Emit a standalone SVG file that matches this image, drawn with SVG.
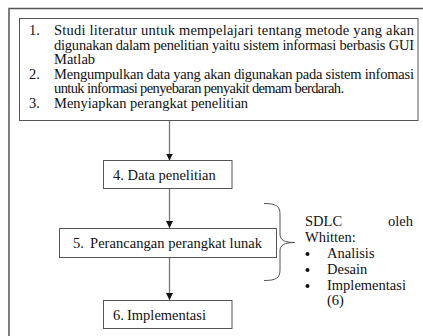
<svg xmlns="http://www.w3.org/2000/svg" width="423" height="336" viewBox="0 0 423 336">
<defs>
<style>
text{font-family:'Liberation Serif','Times New Roman',serif;font-size:14.5px;fill:#111}
.box{fill:#fff;stroke:#555;stroke-width:1}
.con{stroke:#777;stroke-width:1.3;fill:none}
</style>
<marker id="ah" viewBox="0 0 10 10" refX="10" refY="5" markerWidth="7" markerHeight="7" markerUnits="userSpaceOnUse" orient="auto">
<path d="M0,0 L10,5 L0,10 z" fill="#111"/>
</marker>
</defs>
<rect x="0" y="0" width="423" height="336" fill="#fff"/>
<path d="M9,340 V8.5 H430" fill="none" stroke="#555" stroke-width="1.5"/>
<g id="connectors">
<line class="con" x1="169.5" y1="121" x2="169.5" y2="160.5" marker-end="url(#ah)"/>
<line class="con" x1="169.5" y1="189" x2="169.5" y2="228" marker-end="url(#ah)"/>
<line class="con" x1="169.5" y1="258" x2="169.5" y2="300" marker-end="url(#ah)"/>
</g>
<g id="n1">
<rect class="box" x="19.5" y="18.5" width="398.5" height="102"/>
<text x="29" y="35">1.</text>
<text x="54" y="35" textLength="360" lengthAdjust="spacing">Studi literatur untuk mempelajari tentang metode yang akan</text>
<text x="54" y="49.5" textLength="360" lengthAdjust="spacing">digunakan dalam penelitian yaitu sistem informasi berbasis GUI</text>
<text x="54" y="64">Matlab</text>
<text x="29" y="78.5">2.</text>
<text x="54" y="78.5" textLength="360" lengthAdjust="spacing">Mengumpulkan data yang akan digunakan pada sistem infomasi</text>
<text x="54" y="93" textLength="290" lengthAdjust="spacing">untuk informasi penyebaran penyakit demam berdarah.</text>
<text x="29" y="107.5">3.</text>
<text x="54" y="107.5">Menyiapkan perangkat penelitian</text>
</g>
<g id="n4">
<rect class="box" x="103.5" y="160.5" width="128.5" height="28"/>
<text x="113" y="179.5">4. Data penelitian</text>
</g>
<g id="n5">
<rect class="box" x="59.5" y="228.5" width="217" height="29"/>
<text x="73" y="247.5">5.</text>
<text x="90" y="247.5" textLength="172" lengthAdjust="spacing">Perancangan perangkat lunak</text>
</g>
<g id="n6">
<rect class="box" x="103.5" y="300.5" width="128.5" height="28"/>
<text x="113" y="319.5">6.</text>
<text x="127" y="319.5">Implementasi</text>
</g>
<g id="brace">
<path d="M264,203.5 C276,203.5 280,206 280,214 V234 C280,240 284,242.5 295,242.5 C284,242.5 280,245 280,251 V270 C280,278 276,280.5 264,280.5" fill="none" stroke="#555" stroke-width="1"/>
</g>
<g id="sdlc">
<text x="305" y="226">SDLC</text>
<text x="413" y="226" text-anchor="end">oleh</text>
<text x="305" y="242">Whitten:</text>
<circle cx="307.5" cy="254" r="2" fill="#111"/>
<text x="327" y="258">Analisis</text>
<circle cx="307.5" cy="270" r="2" fill="#111"/>
<text x="327" y="274">Desain</text>
<circle cx="307.5" cy="286" r="2" fill="#111"/>
<text x="327" y="290">Implementasi</text>
<text x="327" y="305">(6)</text>
</g>
</svg>
